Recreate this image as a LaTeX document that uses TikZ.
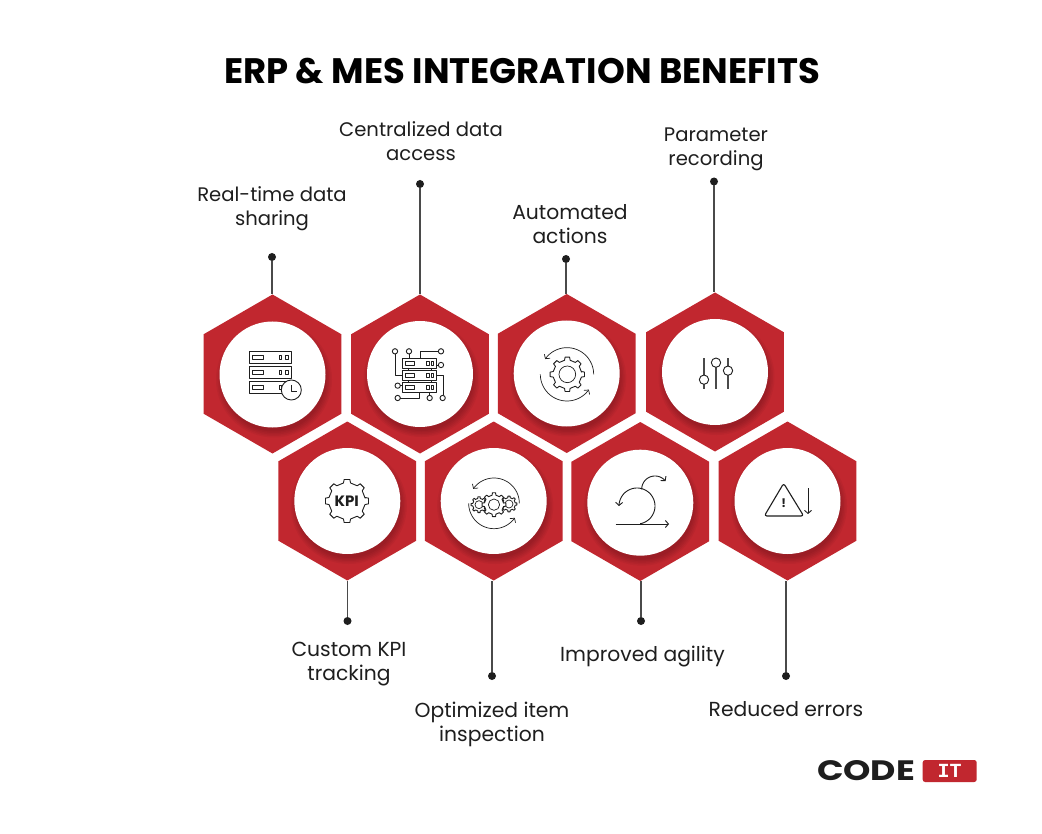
\documentclass[tikz,border=0pt]{standalone}
\usepackage{fontspec}
\setmainfont{Poppins}
\usetikzlibrary{shapes.geometric,arrows.meta}
\definecolor{hexred}{HTML}{C1272F}
\definecolor{ink}{HTML}{1E1E1E}
\definecolor{wire}{HTML}{4A4A4A}
\tikzset{
  hexcell/.style={regular polygon,regular polygon sides=6,shape border rotate=30,minimum size=159pt,inner sep=0pt,outer sep=0pt,fill=hexred},
  disc/.style={circle,fill=white,minimum size=106pt,inner sep=0pt,outer sep=0pt},
  pin/.style={circle,fill=ink,minimum size=8pt,inner sep=0pt,outer sep=0pt},
  wireline/.style={draw=wire,line width=1.1pt},
  caption/.style={align=center,text=ink,font=\fontsize{19.6}{24}\selectfont},
  widecaption/.style={align=center,text=ink,font=\fontsize{20.3}{24}\selectfont},
  iconline/.style={draw=ink,line width=0.9pt,line join=round},
  arrowline/.style={iconline,-{Straight Barb[length=3pt,width=7pt]}},
  zoomed/.style={x=0.33333pt,y=-0.33333pt}
}
% arc in zoom units, y pointing down
\newcommand\zarc[6][]{\draw[arrowline,#1] plot[domain=#5:#6,samples=48,smooth] ({#2+#4*cos(\x)},{#3+#4*sin(\x)});}
\newcommand\zgear[5]{\begin{scope}[shift={(#1,#2)}]
  \draw[iconline,fill=white] (-9:#4) \foreach \i in {1,...,#5}{
    -- ({(\i-1)*360/#5-90/#5}:#4) -- ({(\i-1)*360/#5-60/#5}:#3) -- ({(\i-1)*360/#5+60/#5}:#3) -- ({(\i-1)*360/#5+90/#5}:#4)} -- cycle;
\end{scope}}
\newcommand\shadowed[3]{%
  \foreach \r in {52,53.5,55,56.5,58}{\fill[black!75!hexred,opacity=0.055] (#2+1.5,#3+5) circle[radius=\r pt];}%
  \node[disc] (#1) at (#2,#3) {};}
\begin{document}
\begin{tikzpicture}[x=1pt,y=-1pt]
\useasboundingbox (0,0) rectangle (1042,834);
\fill[white] (0,0) rectangle (1042,834);

\node[font=\fontsize{35.4}{42}\selectfont\bfseries,text=black] (title) at (522,71) {ERP \& MES INTEGRATION BENEFITS};

% hexagons
\node[hexcell] (h1) at (272.5,374) {};
\node[hexcell] (h2) at (420,374) {};
\node[hexcell] (h3) at (566.7,373.5) {};
\node[hexcell] (h4) at (715,372) {};
\node[hexcell] (h5) at (347.3,501) {};
\node[hexcell] (h6) at (493.7,501) {};
\node[hexcell] (h7) at (640.3,501.5) {};
\node[hexcell] (h8) at (787.5,501) {};

% white discs with their soft shadow
\shadowed{c1}{272.5}{374.5}
\shadowed{c2}{420}{374}
\shadowed{c3}{566.7}{373.5}
\shadowed{c4}{715}{372}
\shadowed{c5}{347.3}{501}
\shadowed{c6}{493.7}{501}
\shadowed{c7}{640.3}{502.7}
\shadowed{c8}{787.5}{501}

% pins and connectors
\node[pin] (d1) at (272,257) {};
\node[pin] (d2) at (420,184) {};
\node[pin] (d3) at (566,259) {};
\node[pin] (d4) at (714,181.5) {};
\node[pin] (d5) at (347.5,621) {};
\node[pin] (d6) at (492,676) {};
\node[pin] (d7) at (641,621) {};
\node[pin] (d8) at (786,676) {};
\draw[wireline] (d1) -- (d1 |- h1.corner 1);
\draw[wireline] (d2) -- (d2 |- h2.corner 1);
\draw[wireline] (d3) -- (d3 |- h3.corner 1);
\draw[wireline] (d4) -- (d4 |- h4.corner 1);
\draw[wireline] (d5) -- (d5 |- h5.corner 4);
\draw[wireline] (d6) -- (d6 |- h6.corner 4);
\draw[wireline] (d7) -- (d7 |- h7.corner 4);
\draw[wireline] (d8) -- (d8 |- h8.corner 4);

% captions
\node[caption] (t1) at (272,209) {Real-time data\\sharing};
\node[caption] (t2) at (421,141) {Centralized data\\access};
\node[widecaption] (t3) at (570,224) {Automated\\actions};
\node[caption] (t4) at (716,149) {Parameter\\recording};
\node[widecaption] (t5) at (349,664) {Custom KPI\\tracking};
\node[widecaption] (t6) at (492,724) {Optimized item\\inspection};
\node[widecaption] (t7) at (642.5,657) {Improved agility};
\node[widecaption] (t8) at (786,709) {Reduced errors};

% icon 1: servers with clock
\begin{scope}[shift={(200,290)},zoomed]
  \foreach \t in {184,229,273}{
    \draw[iconline] (148,\t) rectangle (275,\t+36);
    \draw[iconline,line width=0.7pt] (158,\t+13) rectangle (190,\t+24);
    \draw[iconline,line width=0.7pt] (237,\t+13) rectangle (245,\t+24);
    \draw[iconline,line width=0.7pt] (255,\t+13) rectangle (264,\t+24);
  }
  \draw[iconline,fill=white] (274,300) circle[radius=30];
  \draw[iconline] (273,285) -- (273,303) -- (290,303);
\end{scope}

% icon 2: network of servers
\begin{scope}[shift={(200,290)},zoomed]
  \foreach \t in {206,242,278}{
    \draw[iconline] (607,\t) rectangle (710,\t+28);
    \draw[iconline,line width=0.7pt] (616,\t+9) rectangle (642,\t+19);
    \draw[iconline,line width=0.7pt] (680,\t+9) rectangle (688,\t+19);
    \draw[iconline,line width=0.7pt] (693,\t+9) rectangle (701,\t+19);
  }
  \draw[iconline] (585,192) -- (585,255) -- (607,255);
  \draw[iconline] (627,192) -- (627,206);
  \draw[iconline] (660,206) -- (660,184) -- (715,184);
  \draw[iconline] (710,225) -- (715,225);
  \draw[iconline] (710,256) -- (729,256) -- (729,316);
  \draw[iconline] (601,287) -- (607,287);
  \draw[iconline] (601,324) -- (658,324) -- (658,306);
  \draw[iconline] (689,306) -- (689,316);
  \draw[iconline] (625,234) -- (625,242) (625,270) -- (625,278) (693,234) -- (693,242) (693,270) -- (693,278);
  \foreach \a/\b in {585/184,627/184,723/184,723/225,593/287,593/324,689/324,728/324}{
    \draw[iconline] (\a,\b) circle[radius=8];
  }
\end{scope}

% icon 3: gear with cycle
\begin{scope}[shift={(495,290)},zoomed]
  \zgear{217}{253}{52}{43}{8}
  \draw[iconline,line width=0.7pt] (217,253) circle[radius=25];
  \zarc[line width=0.7pt]{216}{253}{80}{0}{-145}
  \zarc[line width=0.7pt]{216}{253}{80}{180}{35}
\end{scope}

% icon 4: sliders
\begin{scope}[shift={(495,290)},zoomed]
  \draw[draw=wire,line width=1.3pt] (627,205) -- (627,298) (663,205) -- (663,298) (699,205) -- (699,298);
  \foreach \a/\b in {627/269,663/218,699/242}{
    \draw[iconline,fill=white] (\a,\b) circle[radius=14];
  }
\end{scope}

% icon 5: KPI gear
\begin{scope}[shift={(275,420)},zoomed]
  \zgear{216}{243}{65}{55}{8}
  \node[font=\fontsize{15}{15}\selectfont\bfseries,text=ink,inner sep=0pt] (kpi) at (215,245) {KPI};
\end{scope}

% icon 6: three gears with cycle
\begin{scope}[shift={(275,420)},zoomed]
  \zarc[line width=0.7pt]{657}{250}{76}{0}{-145}
  \zarc[line width=0.7pt]{657}{250}{76}{180}{35}
  \zgear{612}{254}{24}{19}{8}
  \draw[iconline,line width=0.7pt] (612,254) circle[radius=12];
  \zgear{702}{252}{24}{19}{8}
  \draw[iconline,line width=0.7pt] (702,252) circle[radius=12];
  \zgear{657}{254}{36}{29}{8}
  \draw[iconline,line width=0.7pt] (657,254) circle[radius=17];
\end{scope}

% icon 7: agile loop
\begin{scope}[shift={(565,420)},zoomed]
  \draw[arrowline] (152,312) -- (312,312);
  \zarc{216}{258}{54}{80}{-180}
  \zarc{270}{208}{40}{180}{322}
\end{scope}

% icon 8: warning and down arrow
\begin{scope}[shift={(565,420)},zoomed]
  \draw[iconline,line width=1.1pt,rounded corners=2.5pt] (656,190) -- (716,288) -- (598,288) -- cycle;
  \node[font=\fontsize{12}{12}\selectfont\bfseries,text=ink,inner sep=0pt] (bang) at (656,250) {!};
  \draw[arrowline] (729,205) -- (729,282);
\end{scope}

% logo
\node[inner sep=0pt,text=ink,font=\bfseries] (code) at (866,770.5) {\resizebox{98pt}{20pt}{CODE}};
\node[fill=hexred,rounded corners=2.5pt,minimum width=54pt,minimum height=22pt,inner sep=0pt] (badge) at (949.7,771) {};
\node[text=white,inner sep=0pt,font=\fontspec{Liberation Mono}\bfseries\fontsize{20}{20}\selectfont] (it) at (badge) {IT};
\end{tikzpicture}
\end{document}
